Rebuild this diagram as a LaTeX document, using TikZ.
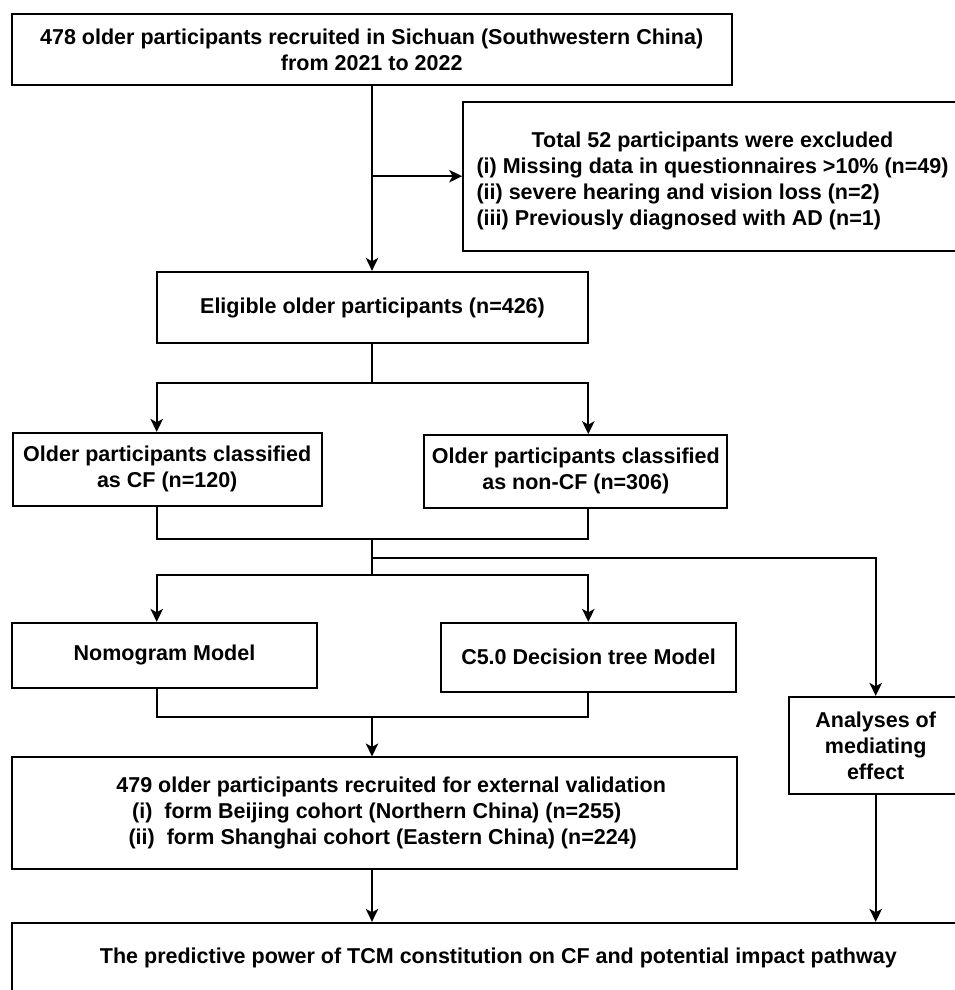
\documentclass[tikz,border=0pt]{standalone}
\usepackage{fontspec}
\setmainfont{Liberation Sans}
\usetikzlibrary{arrows.meta}
\begin{document}
\begin{tikzpicture}[x=1pt,y=-1pt,
  box/.style={draw=black, line width=1.7pt, inner sep=0pt, align=center,
    font=\fontsize{21.5}{26}\selectfont\bfseries},
  conn/.style={line width=1.7pt},
  arr/.style={conn, -{Stealth[length=13pt,width=12.5pt,inset=3.5pt]}}]
\useasboundingbox (0,0) rectangle (955,990);

% boxes
\node[box, minimum width=720pt, minimum height=70.7pt] (top) at (371.7,49.65)
  {478 older participants recruited in Sichuan (Southwestern China)\\from 2021 to 2022};
\node[box, minimum width=499pt, minimum height=149pt] (excl) at (712.5,176.2)
  {\raisebox{-5pt}[\height][\depth]{\begin{tabular}{@{}l@{}}
   \multicolumn{1}{@{}c@{}}{Total 52 participants were excluded}\\
   (i) Missing data in questionnaires >10\% (n=49)\\
   (ii) severe hearing and vision loss (n=2)\\
   (iii) Previously diagnosed with AD (n=1)
   \end{tabular}}};
\node[box, minimum width=431.6pt, minimum height=71.6pt] (elig) at (372.5,307.5)
  {Eligible older participants (n=426)};
\node[box, minimum width=309pt, minimum height=73pt] (cf) at (167.2,469.2)
  {Older participants classified\\as CF (n=120)};
\node[box, minimum width=303pt, minimum height=72.7pt] (noncf) at (575.8,471.35)
  {Older participants classified\\as non-CF (n=306)};
\node[box, minimum width=305.6pt, minimum height=65pt] (nomo) at (164.5,655.2)
  {Nomogram Model};
\node[box, minimum width=295pt, minimum height=69pt] (c50) at (588.5,657.2)
  {C5.0 Decision tree Model};
\node[box, minimum width=725pt, minimum height=111.7pt] (valid) at (374.2,813.15)
  {\hspace*{34pt}479 older participants recruited for external validation\\
   \hspace*{5pt}(i)~~form Beijing cohort (Northern China) (n=255)\\
   \hspace*{17pt}(ii)~~form Shanghai cohort (Eastern China) (n=224)};
\node[box, minimum width=173.4pt, minimum height=97.6pt] (med) at (875.7,745.5)
  {Analyses of\\mediating\\effect};
\node[box, minimum width=973.3pt, minimum height=71.3pt] (final) at (498.3,958.35)
  {The predictive power of TCM constitution on CF and potential impact pathway};

% helper coordinates
\coordinate (mx) at (372,0);
\coordinate (lx) at (156.7,0);
\coordinate (rx) at (588.3,0);
\coordinate (j1) at (372,383.3);
\coordinate (j2) at (372,539);
\coordinate (jm) at (372,558);
\coordinate (j3) at (372,575);
\coordinate (j4) at (372,717.3);

% connectors
\draw[arr] (top.south -| mx) -- (elig.north -| mx);
\draw[arr] (mx |- excl.west) -- (excl.west);
\draw[conn] (elig.south -| mx) -- (j1);
\draw[arr] (j1) -| (cf.north -| lx);
\draw[arr] (j1) -| (noncf.north -| rx);
\draw[conn] (cf.south -| lx) |- (j2) -| (noncf.south -| rx);
\draw[conn] (j2) -- (j3);
\draw[arr] (jm) -| (med.north);
\draw[arr] (j3) -| (nomo.north -| lx);
\draw[arr] (j3) -| (c50.north -| rx);
\draw[conn] (nomo.south -| lx) |- (j4) -| (c50.south -| rx);
\draw[arr] (j4) -- (valid.north -| mx);
\draw[arr] (valid.south -| mx) -- (final.north -| mx);
\draw[arr] (med.south) -- (final.north -| med.south);
\end{tikzpicture}
\end{document}
